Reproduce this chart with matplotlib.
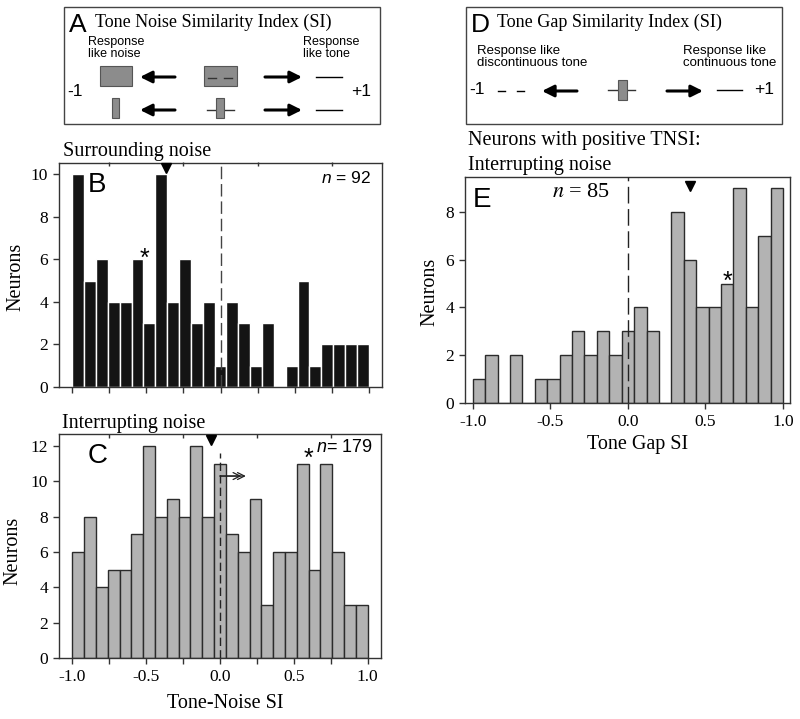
import numpy as np
import matplotlib
matplotlib.use("Agg")
import matplotlib.pyplot as plt
from matplotlib.patches import Rectangle

# ---------------- data ----------------
bin_edges = np.linspace(-1.0, 1.0, 26)
counts_B = [10, 5, 6, 4, 4, 6, 3, 10, 4, 6, 3, 4, 1, 4, 3, 1, 3, 0, 1, 5, 1, 2, 2, 2, 2]
counts_C = [6, 8, 4, 5, 5, 7, 12, 8, 9, 8, 12, 8, 11, 7, 6, 9, 3, 6, 6, 11, 5, 11, 6, 3, 3]
counts_E = [1, 2, 0, 2, 0, 1, 1, 2, 3, 2, 3, 2, 3, 4, 3, 0, 8, 6, 4, 4, 5, 9, 4, 7, 9]
median_B, median_C, median_E = -0.37, -0.06, 0.40
star_B = (-0.51, 6.0)
star_C = (0.60, 11.25)
star_E = (0.64, 5.05)
n_B, n_C, n_E = 92, 179, 85
x_ticks = [-1.0, -0.5, 0.0, 0.5, 1.0]
x_ticklabels = ["-1.0", "-0.5", "0.0", "0.5", "1.0"]

SERIF = "Liberation Serif"
SANS = "Liberation Sans"
plt.rcParams["font.family"] = SERIF
plt.rcParams["mathtext.fontset"] = "custom"
plt.rcParams["mathtext.it"] = "Liberation Sans:italic"
plt.rcParams["mathtext.rm"] = "Liberation Sans"

W, H = 800, 719
fig = plt.figure(figsize=(W / 100, H / 100), dpi=100)


def px_axes(l, t, r, b):
    return fig.add_axes([l / W, 1 - b / H, (r - l) / W, (b - t) / H])


SPINE = "#333333"


def style_axes(ax, yticks, xlim, ylim, minor_x=True, top_ticks=True, labels=True):
    ax.set_xlim(*xlim)
    ax.set_ylim(*ylim)
    for s in ax.spines.values():
        s.set_color(SPINE)
        s.set_linewidth(1.0)
    ax.set_yticks(yticks)
    ax.set_yticklabels([str(v) for v in yticks], fontsize=12.5, family=SERIF)
    if minor_x:
        ax.set_xticks(np.arange(-1.0, 1.001, 0.25), minor=True)
    ax.set_xticks(x_ticks)
    if labels:
        ax.set_xticklabels(x_ticklabels, fontsize=12.5, family=SERIF)
    else:
        ax.set_xticklabels([])
    ax.tick_params(axis="both", which="both", direction="out", length=4,
                   width=1.0, color=SPINE, pad=4)
    if top_ticks:
        sec = ax.secondary_xaxis("top")
        sec.set_xticks([-0.75, -0.25, 0.25, 0.75])
        sec.set_xticklabels([])
        sec.tick_params(direction="in", length=3, width=1.0, color=SPINE)
        sec.spines["top"].set_visible(False)


# ---------------- panel B ----------------
axB = px_axes(59, 162.5, 382, 387)
axB.bar(bin_edges[:-1], counts_B, width=np.diff(bin_edges), align="edge",
        color="#141414", edgecolor="white", linewidth=1.0, zorder=2)
style_axes(axB, [0, 2, 4, 6, 8, 10], (-1.09, 1.09), (0, 10.55), labels=False)
axB.axvline(0, color="#444444", lw=1.0, ls=(0, (9, 3.5)), zorder=3)
axB.plot([median_B], [10.3], marker="v", color="k", ms=7, zorder=4, clip_on=False)
axB.text(star_B[0], star_B[1], "*", family=SANS, fontsize=18, ha="center",
         va="center", zorder=4)
axB.text(0.966, 0.93, "$n$ = %d" % n_B, transform=axB.transAxes, family=SANS,
         fontsize=12.5, ha="right", va="center")
axB.text(0.09, 0.90, "B", transform=axB.transAxes, family=SANS, fontsize=20,
         ha="left", va="center")
axB.set_ylabel("Neurons", fontsize=14.5, family=SERIF)
axB.yaxis.set_label_coords(-0.105, 0.49)

# ---------------- panel C ----------------
axC = px_axes(59, 434, 381, 658)
axC.bar(bin_edges[:-1], counts_C, width=np.diff(bin_edges), align="edge",
        color="#b3b3b3", edgecolor="#2b2b2b", linewidth=1.0, zorder=2)
style_axes(axC, [0, 2, 4, 6, 8, 10, 12], (-1.09, 1.09), (0, 12.68))
axC.plot([0, 0], [0, 11.6], color="#222222", lw=1.0, ls=(0, (6, 3)), zorder=3)
axC.annotate("", xy=(0.175, 10.3), xytext=(0.0, 10.3),
             arrowprops=dict(arrowstyle="->,head_length=0.5,head_width=0.25",
                             lw=0.9, color="#222222", shrinkA=0, shrinkB=0), zorder=4)
axC.annotate("", xy=(0.145, 10.3), xytext=(0.0, 10.3),
             arrowprops=dict(arrowstyle="->,head_length=0.5,head_width=0.25",
                             lw=0.9, color="#222222", shrinkA=0, shrinkB=0), zorder=4)
axC.plot([median_C], [12.34], marker="v", color="k", ms=7, zorder=4, clip_on=False)
axC.text(star_C[0], star_C[1], "*", family=SANS, fontsize=18, ha="center",
         va="center", zorder=4)
axC.text(0.975, 0.9375, "$n$= %d" % n_C, transform=axC.transAxes, family=SANS,
         fontsize=13, ha="right", va="center")
axC.text(0.09, 0.90, "C", transform=axC.transAxes, family=SANS, fontsize=20,
         ha="left", va="center")
axC.set_ylabel("Neurons", fontsize=14.5, family=SERIF)
axC.yaxis.set_label_coords(-0.112, 0.48)
axC.set_xlabel("Tone-Noise SI", fontsize=14.5, family=SERIF)
axC.xaxis.set_label_coords(0.515, -0.16)

# ---------------- panel E ----------------
axE = px_axes(465, 177, 790, 403)
axE.bar(bin_edges[:-1], counts_E, width=np.diff(bin_edges), align="edge",
        color="#b3b3b3", edgecolor="#2b2b2b", linewidth=1.0, zorder=2)
style_axes(axE, [0, 2, 4, 6, 8], (-1.05, 1.045), (0, 9.46), minor_x=False,
           top_ticks=False)
axE.axvline(0, color="#222222", lw=1.0, ls=(0, (12, 4)), zorder=3)
axE.plot([median_E], [9.1], marker="v", color="k", ms=7, zorder=4, clip_on=False)
axE.text(star_E[0], star_E[1], "*", family=SANS, fontsize=18, ha="center",
         va="center", zorder=4)
axE.text(0.357, 0.93, "$n$ = %d" % n_E, transform=axE.transAxes, family=SERIF,
         fontsize=16, ha="center", va="center", math_fontfamily="stix")
axE.text(0.025, 0.90, "E", transform=axE.transAxes, family=SANS, fontsize=20,
         ha="left", va="center")
axE.set_ylabel("Neurons", fontsize=14.5, family=SERIF)
axE.yaxis.set_label_coords(-0.08, 0.49)
axE.set_xlabel("Tone Gap SI", fontsize=14.5, family=SERIF)
axE.xaxis.set_label_coords(0.53, -0.142)

# ---------------- overlay (schematics & titles) ----------------
ov = fig.add_axes([0, 0, 1, 1], zorder=10)
ov.set_xlim(0, W)
ov.set_ylim(H, 0)
ov.axis("off")
ov.patch.set_alpha(0)

ov.text(63, 156, "Surrounding noise", fontsize=14.5, family=SERIF, va="baseline")
ov.text(62, 428, "Interrupting noise", fontsize=14.5, family=SERIF, va="baseline")
ov.text(468, 145, "Neurons with positive TNSI:", fontsize=14.5, family=SERIF,
        va="baseline")
ov.text(468, 170, "Interrupting noise", fontsize=14.5, family=SERIF, va="baseline")

GRAY = "#8c8c8c"
GEDGE = "#555555"


def arrow(x0, x1, y):
    ov.annotate("", xy=(x1, y), xytext=(x0, y),
                arrowprops=dict(arrowstyle="-|>,head_length=0.7,head_width=0.35",
                                lw=2.2, color="k", shrinkA=0, shrinkB=0))


def box(x0, y0, x1, y1):
    ov.add_patch(Rectangle((x0, y0), x1 - x0, y1 - y0, facecolor=GRAY,
                           edgecolor=GEDGE, lw=0.8, zorder=3))


# Box A
ov.add_patch(Rectangle((64, 7), 316, 117, fill=False, edgecolor="#444444", lw=1.0))
ov.text(69, 25, "A", family=SANS, fontsize=19, va="center", ha="left")
ov.text(95, 22, "Tone Noise Similarity Index (SI)", family=SERIF, fontsize=13,
        va="center", ha="left")
ov.text(88, 48, "Response\nlike noise", family=SANS, fontsize=9, va="center",
        ha="left", linespacing=1.0)
ov.text(303, 48, "Response\nlike tone", family=SANS, fontsize=9, va="center",
        ha="left", linespacing=1.0)
ov.text(67, 91, "-1", family=SANS, fontsize=12.5, va="center", ha="left")
ov.text(351, 91, "+1", family=SANS, fontsize=12.5, va="center", ha="left")
# row 1
box(100, 66, 132, 86)
arrow(175, 140, 77)
box(204, 66, 237, 86)
ov.plot([208, 216], [78, 78], color="#333333", lw=1.0, zorder=4)
ov.plot([224, 232], [78, 78], color="#333333", lw=1.0, zorder=4)
arrow(265, 302, 77)
ov.plot([316, 342], [77, 77], color="k", lw=1.0)
# row 2
box(112, 98, 119, 118)
arrow(175, 140, 110)
ov.plot([207, 234], [110, 110], color="#333333", lw=1.0, zorder=2)
box(216, 98, 224, 118)
arrow(265, 302, 110)
ov.plot([316, 342], [110, 110], color="k", lw=1.0)

# Box D
ov.add_patch(Rectangle((466, 7), 316, 117, fill=False, edgecolor="#444444", lw=1.0))
ov.text(471, 25, "D", family=SANS, fontsize=19, va="center", ha="left")
ov.text(497, 22, "Tone Gap Similarity Index (SI)", family=SERIF, fontsize=13,
        va="center", ha="left")
ov.text(477, 57, "Response like\ndiscontinuous tone", family=SANS, fontsize=9.5,
        va="center", ha="left", linespacing=1.0)
ov.text(683, 57, "Response like\ncontinuous tone", family=SANS, fontsize=9.5,
        va="center", ha="left", linespacing=1.0)
ov.text(469, 90, "-1", family=SANS, fontsize=12.5, va="center", ha="left")
ov.text(754, 90, "+1", family=SANS, fontsize=12.5, va="center", ha="left")
ov.plot([498, 505], [91, 91], color="k", lw=1.0)
ov.plot([517, 524], [91, 91], color="k", lw=1.0)
arrow(577, 542, 91)
ov.plot([608, 635], [90, 90], color="#333333", lw=1.0, zorder=2)
box(618, 80, 627, 100)
arrow(667, 703, 91)
ov.plot([717, 742], [90, 90], color="k", lw=1.0)

fig.savefig("out.png", dpi=100)
